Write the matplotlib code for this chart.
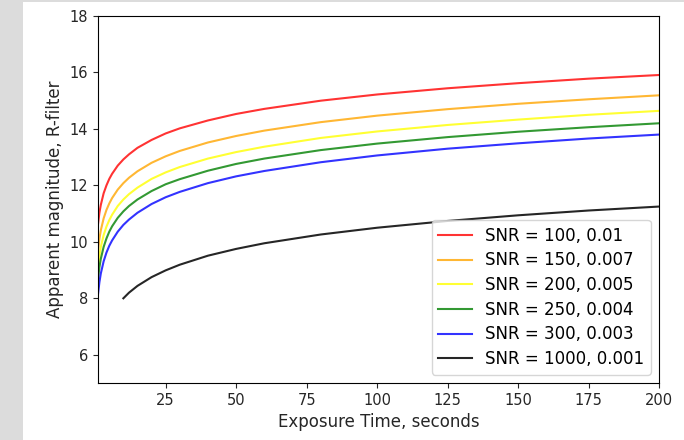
import numpy as np
import matplotlib
matplotlib.use("Agg")
import matplotlib.pyplot as plt
from matplotlib.patches import Rectangle

# exposure times (s) the curves were read at
t = [1, 1.5, 2, 3, 4, 5, 6, 8, 10, 12, 15, 20, 25, 30, 40, 50, 60, 80, 100, 125, 150, 175, 200]
t_black = [10, 12, 15, 20, 25, 30, 40, 50, 60, 80, 100, 125, 150, 175, 200]

# apparent magnitude for each SNR
mag_100 = [10.62, 11.03, 11.31, 11.72, 12.00, 12.23, 12.41, 12.70, 12.92, 13.10, 13.33, 13.61,
           13.84, 14.02, 14.30, 14.53, 14.71, 15.00, 15.22, 15.44, 15.62, 15.78, 15.91]
mag_150 = [9.69, 10.11, 10.41, 10.83, 11.13, 11.36, 11.55, 11.85, 12.08, 12.27, 12.50, 12.80,
           13.03, 13.22, 13.52, 13.75, 13.94, 14.24, 14.47, 14.70, 14.89, 15.05, 15.19]
mag_200 = [9.09, 9.51, 9.82, 10.24, 10.54, 10.77, 10.96, 11.27, 11.50, 11.69, 11.92, 12.23,
           12.46, 12.65, 12.95, 13.18, 13.37, 13.68, 13.91, 14.14, 14.33, 14.50, 14.64]
mag_250 = [8.68, 9.10, 9.40, 9.82, 10.12, 10.36, 10.55, 10.85, 11.08, 11.27, 11.50, 11.80,
           12.04, 12.22, 12.52, 12.76, 12.95, 13.25, 13.48, 13.71, 13.90, 14.06, 14.20]
mag_300 = [8.14, 8.57, 8.88, 9.31, 9.62, 9.86, 10.05, 10.36, 10.60, 10.79, 11.03, 11.34,
           11.58, 11.77, 12.08, 12.32, 12.51, 12.82, 13.06, 13.30, 13.49, 13.66, 13.80]
mag_1000 = [8.00, 8.20, 8.44, 8.75, 8.99, 9.19, 9.51, 9.75, 9.95, 10.26, 10.50, 10.74,
            10.94, 11.11, 11.25]

labels = ["SNR = 100, 0.01", "SNR = 150, 0.007", "SNR = 200, 0.005",
          "SNR = 250, 0.004", "SNR = 300, 0.003", "SNR = 1000, 0.001"]
colors = ["red", "orange", "yellow", "green", "blue", "black"]

fig = plt.figure(figsize=(6.84, 4.4), dpi=100, facecolor="#dcdcdc")
# white notebook-style panel behind the axes
fig.patches.append(Rectangle((23 / 684, 0), 1, 1 - 2 / 440, transform=fig.transFigure,
                             facecolor="white", edgecolor="none", zorder=-5))

ax = fig.add_axes([98 / 684, 1 - 383 / 440, 561 / 684, 367 / 440])
ax.set_zorder(1)

series = [mag_100, mag_150, mag_200, mag_250, mag_300]
for mag, c, lab in zip(series, colors[:5], labels[:5]):
    ax.plot(t, mag, color=c, alpha=0.8, lw=1.5, label=lab)
ax.plot(t_black, mag_1000, color=colors[5], alpha=0.85, lw=1.5, label=labels[5])

ax.set_xlim(1, 200)
ax.set_ylim(5, 18)
ax.set_xticks([25, 50, 75, 100, 125, 150, 175, 200])
ax.set_yticks([6, 8, 10, 12, 14, 16, 18])
ax.tick_params(labelsize=10.5, colors="#262626")
ax.set_xlabel("Exposure Time, seconds", fontsize=12, color="#262626")
ax.set_ylabel("Apparent magnitude, R-filter", fontsize=12, color="#262626")
ax.legend(loc="lower right", fontsize=12, labelspacing=0.4)

fig.savefig("out.png", dpi=100, facecolor=fig.get_facecolor())
